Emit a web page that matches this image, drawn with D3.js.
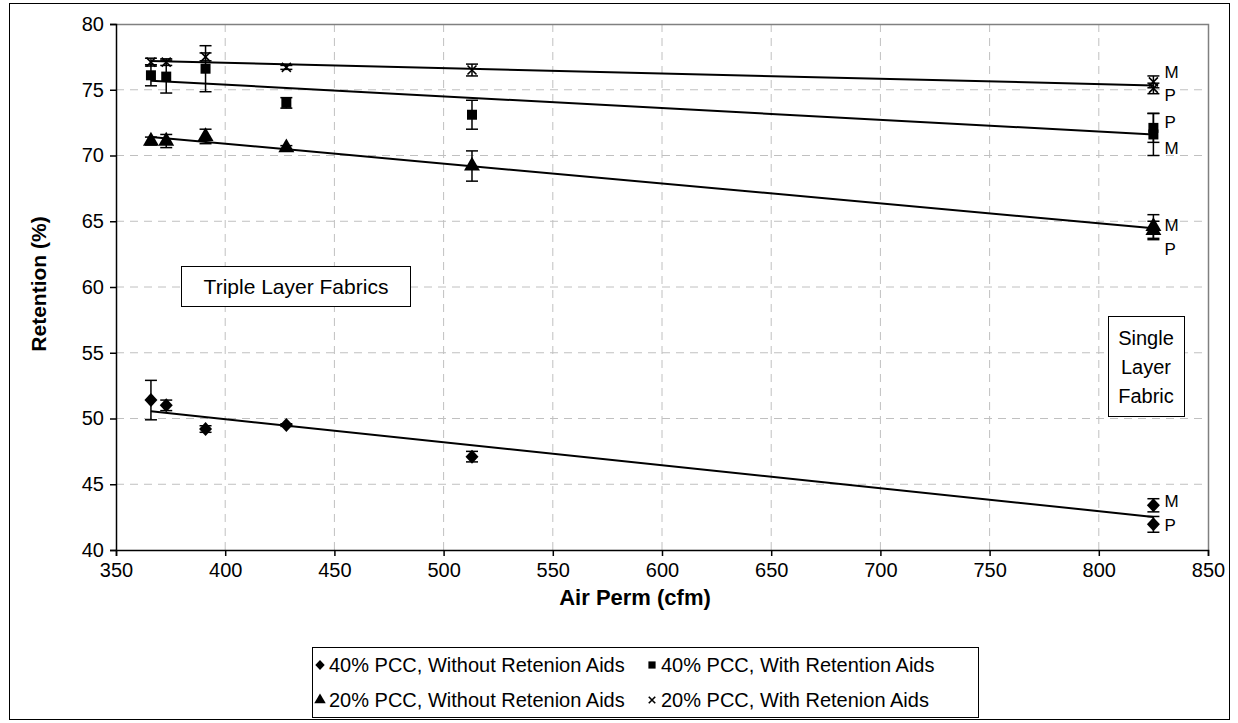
<!DOCTYPE html>
<html>
<head>
<meta charset="utf-8">
<script src="https://cdn.jsdelivr.net/npm/d3@7"></script>
<style>
  body { margin: 0; background: #fff; }
  svg text { font-family: "Liberation Sans", Arial, sans-serif; fill: #000; }
</style>
</head>
<body>
<script>
// air permeability of each fabric (cfm), last two are the single layer fabric (M and P)
var airPerm = [366, 373, 391, 428, 513, 825, 825];

var series = ["40% PCC, Without Retenion Aids", "40% PCC, With Retention Aids",
              "20% PCC, Without Retenion Aids", "20% PCC, With Retenion Aids"];

var pcc40NoAid = [51.4, 51.0, 49.2, 49.5, 47.1, 43.4, 41.95];
var pcc40NoAidErr = [1.5, 0.4, 0.25, 0.1, 0.4, 0.5, 0.6];
var pcc40Aid = [76.1, 76.0, 76.6, 74.0, 73.1, 72.1, 71.6];
var pcc40AidErr = [0.8, 1.25, 1.75, 0.4, 1.1, 1.1, 1.6];
var pcc20NoAid = [71.1, 71.1, 71.45, 70.6, 69.2, 64.6, 64.3];
var pcc20NoAidErr = [0.3, 0.5, 0.55, 0.15, 1.15, 0.9, 0.7];
var pcc20Aid = [77.1, 77.1, 77.5, 76.7, 76.5, 75.6, 75.1];
var pcc20AidErr = [0.3, 0.25, 0.3, 0.15, 0.45, 0.45, 0.4];

// M / P labels next to the single layer points
var mpLabels = [
  {text: "M", v: 76.35}, {text: "P", v: 74.6},
  {text: "P", v: 72.55}, {text: "M", v: 70.55},
  {text: "M", v: 64.7}, {text: "P", v: 62.9},
  {text: "M", v: 43.75}, {text: "P", v: 41.9}
];

var xTicks = [350, 400, 450, 500, 550, 600, 650, 700, 750, 800, 850];
var yTicks = [40, 45, 50, 55, 60, 65, 70, 75, 80];

var w = 1238, h = 723;
var plot = {left: 116, right: 1208, top: 24, bottom: 550};

var svg = d3.select("body").append("svg")
  .attr("width", w)
  .attr("height", h);

// outer chart frame
svg.append("rect")
  .attr("x", 9.5).attr("y", 3.5)
  .attr("width", 1220).attr("height", 716)
  .attr("fill", "white").attr("stroke", "#000");

var xScale = d3.scaleLinear().domain([350, 850]).range([plot.left, plot.right]);
var yScale = d3.scaleLinear().domain([40, 80]).range([plot.bottom, plot.top]);

// grid lines
svg.append("g").selectAll("line")
  .data(yTicks.slice(1, -1))
  .enter().append("line")
  .attr("x1", plot.left).attr("x2", plot.right)
  .attr("y1", function(d) { return yScale(d); })
  .attr("y2", function(d) { return yScale(d); })
  .attr("stroke", "#c0c0c0").attr("stroke-dasharray", "8,6");

svg.append("g").selectAll("line")
  .data(xTicks.slice(1, -1))
  .enter().append("line")
  .attr("y1", plot.top).attr("y2", plot.bottom)
  .attr("x1", function(d) { return xScale(d); })
  .attr("x2", function(d) { return xScale(d); })
  .attr("stroke", "#c0c0c0").attr("stroke-dasharray", "8,6");

// plot area border top/right
svg.append("path")
  .attr("d", "M" + plot.left + "," + (plot.top + 0.5) + "H" + (plot.right + 0.5) + "V" + plot.bottom)
  .attr("fill", "none").attr("stroke", "#808080").attr("stroke-width", 1.5);

// axes
var xAxis = d3.axisBottom(xScale).tickValues(xTicks).tickSize(6).tickPadding(7);
var yAxis = d3.axisLeft(yScale).tickValues(yTicks).tickSize(6).tickPadding(6);

var gx = svg.append("g")
  .attr("transform", "translate(0," + plot.bottom + ")")
  .call(xAxis);
var gy = svg.append("g")
  .attr("transform", "translate(" + plot.left + ",0)")
  .call(yAxis);

[gx, gy].forEach(function(g) {
  g.selectAll("path, line").attr("stroke", "#000").attr("stroke-width", 1.5);
  g.selectAll("text").style("font-size", "20px")
    .style("font-family", "'Liberation Sans', Arial, sans-serif");
});

svg.append("text")
  .attr("transform", "translate(46," + ((plot.top + plot.bottom) / 2 - 3) + ") rotate(-90)")
  .attr("text-anchor", "middle")
  .style("font-size", "21px").style("font-weight", "bold")
  .text("Retention (%)");

svg.append("text")
  .attr("x", 635)
  .attr("y", 605)
  .attr("text-anchor", "middle")
  .style("font-size", "22px").style("font-weight", "bold")
  .text("Air Perm (cfm)");

// linear fit like an excel trendline
function fit(xs, ys) {
  var mx = d3.mean(xs), my = d3.mean(ys);
  var sxy = 0, sxx = 0;
  for (var i = 0; i < xs.length; i++) {
    sxy += (xs[i] - mx) * (ys[i] - my);
    sxx += (xs[i] - mx) * (xs[i] - mx);
  }
  var b = sxy / sxx;
  return function(x) { return my + b * (x - mx); };
}

var symbols = ["diamond", d3.symbolSquare, d3.symbolTriangle, "cross"];
var values = [pcc40NoAid, pcc40Aid, pcc20NoAid, pcc20Aid];
var errors = [pcc40NoAidErr, pcc40AidErr, pcc20NoAidErr, pcc20AidErr];
var sizes = [0, 100, 110, 0];

function drawMarker(g, k, cx, cy, scale) {
  scale = scale || 1;
  if (symbols[k] == "cross") {
    var s = 4.5 * scale;
    g.append("path")
      .attr("d", "M" + (cx - s) + "," + (cy - s) + "L" + (cx + s) + "," + (cy + s) +
                 "M" + (cx - s) + "," + (cy + s) + "L" + (cx + s) + "," + (cy - s))
      .attr("stroke", "#000").attr("stroke-width", 1.6).attr("fill", "none");
  } else if (symbols[k] == "diamond") {
    var a = 6.5 * scale, b = 7 * scale;
    g.append("path")
      .attr("d", "M" + cx + "," + (cy - b) + "L" + (cx + a) + "," + cy +
                 "L" + cx + "," + (cy + b) + "L" + (cx - a) + "," + cy + "Z")
      .attr("fill", "#000");
  } else {
    g.append("path")
      .attr("d", d3.symbol().type(symbols[k]).size(sizes[k] * scale * scale)())
      .attr("transform", "translate(" + cx + "," + cy + ")")
      .attr("fill", "#000");
  }
}

var xMin = d3.min(airPerm), xMax = d3.max(airPerm);

values.forEach(function(vals, k) {
  var g = svg.append("g");
  var line = fit(airPerm, vals);

  g.append("line")
    .attr("x1", xScale(xMin)).attr("y1", yScale(line(xMin)))
    .attr("x2", xScale(xMax)).attr("y2", yScale(line(xMax)))
    .attr("stroke", "#000").attr("stroke-width", 2);

  vals.forEach(function(v, i) {
    var cx = xScale(airPerm[i]);
    var e = errors[k][i];
    var y1 = yScale(v + e), y2 = yScale(v - e);
    g.append("line")
      .attr("x1", cx).attr("x2", cx).attr("y1", y1).attr("y2", y2)
      .attr("stroke", "#000").attr("stroke-width", 1.5);
    [y1, y2].forEach(function(yy) {
      g.append("line")
        .attr("x1", cx - 6).attr("x2", cx + 6).attr("y1", yy).attr("y2", yy)
        .attr("stroke", "#000").attr("stroke-width", 1.5);
    });
    drawMarker(g, k, cx, yScale(v));
  });
});

// M / P labels
svg.append("g").selectAll("text")
  .data(mpLabels)
  .enter().append("text")
  .attr("x", xScale(825) + 11)
  .attr("y", function(d) { return yScale(d.v); })
  .attr("dy", "0.35em")
  .style("font-size", "17px")
  .text(function(d) { return d.text; });

// text boxes
svg.append("rect")
  .attr("x", 181.5).attr("y", 266.5).attr("width", 229).attr("height", 40)
  .attr("fill", "white").attr("stroke", "#000");
svg.append("text")
  .attr("x", 296).attr("y", 287).attr("dy", "0.35em")
  .attr("text-anchor", "middle")
  .style("font-size", "21px")
  .text("Triple Layer Fabrics");

svg.append("rect")
  .attr("x", 1108.5).attr("y", 316.5).attr("width", 76).attr("height", 100)
  .attr("fill", "white").attr("stroke", "#000");
["Single", "Layer", "Fabric"].forEach(function(t, i) {
  svg.append("text")
    .attr("x", 1146).attr("y", 338 + i * 29).attr("dy", "0.35em")
    .attr("text-anchor", "middle")
    .style("font-size", "20px")
    .text(t);
});

// legend
var legend = svg.append("g");
legend.append("rect")
  .attr("x", 312.5).attr("y", 647.5).attr("width", 666).attr("height", 70)
  .attr("fill", "white").attr("stroke", "#000");

var legendPos = [[318, 665], [650, 665], [318, 700], [650, 700]];
series.forEach(function(name, k) {
  var p = legendPos[k];
  drawMarker(legend, k, p[0] + 2, p[1], 0.72);
  legend.append("text")
    .attr("x", p[0] + 11).attr("y", p[1]).attr("dy", "0.35em")
    .style("font-size", "20px")
    .text(name);
});
</script>
</body>
</html>
